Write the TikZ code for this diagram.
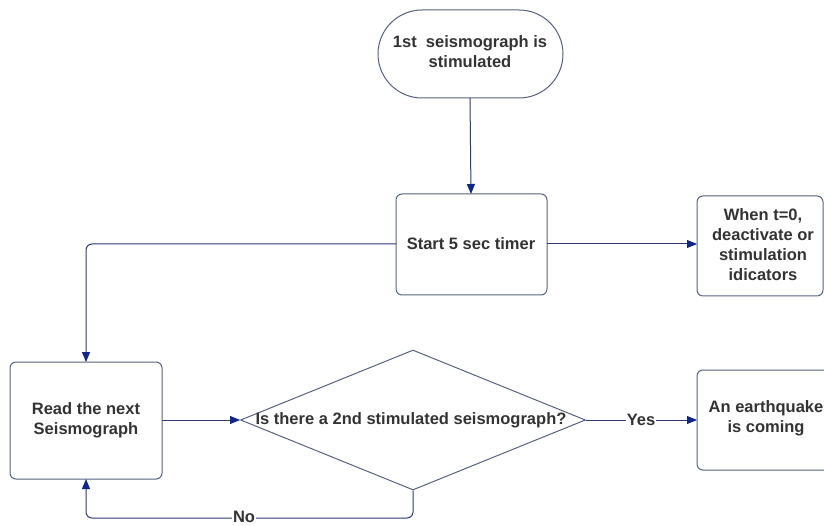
\documentclass[tikz,border=0pt]{standalone}
\usepackage{fontspec}
\setmainfont{Liberation Sans}
\usetikzlibrary{arrows.meta,shapes.geometric}
\definecolor{txt}{RGB}{51,51,51}
\definecolor{boxline}{RGB}{88,98,128}
\definecolor{conn}{RGB}{45,57,120}
\definecolor{tipc}{RGB}{16,38,140}
\tikzset{
  lbl/.style={font=\fontsize{16.5}{20}\selectfont\bfseries, text=txt, align=center},
  box/.style={draw=boxline, line width=1pt, rounded corners=6pt, fill=white},
  conn/.style={draw=conn, line width=1pt, rounded corners=6pt,
     -{Triangle[length=10pt,width=8pt,fill=tipc,color=tipc]}},
}
\begin{document}
\begin{tikzpicture}[x=1pt,y=-1pt]
\useasboundingbox (0,0) rectangle (824,526);
\clip (0,0) rectangle (824,526);
% shapes
\path[box, rounded corners=44pt] (378,10) rectangle (563,98);
\node[lbl] (start) at (470,52) {1st\ \ seismograph is\\stimulated};
\coordinate (startT) at (470,98);
\path[box] (396,194) rectangle (547,295);
\node[lbl] (timer) at (471,244) {Start 5 sec timer};
\coordinate (timerT) at (471,194);
\coordinate (timerL) at (396,244);
\coordinate (timerR) at (547,244);
\path[box] (697,196) rectangle (823,296);
\node[lbl] (when) at (763,245) {When t=0,\\deactivate or\\stimulation\\idicators};
\coordinate (whenL) at (697,244);
\path[box] (10,362) rectangle (162,479);
\node[lbl] (read) at (86,420) {Read the next\\Seismograph};
\coordinate (readT) at (86,362);
\coordinate (readB) at (86,479);
\coordinate (readR) at (162,420);
\node[diamond, draw=boxline, line width=1pt, minimum width=345pt, minimum height=140pt, inner sep=0pt] (dia) at (413,420) {};
\node[lbl] (q) at (411,420) {Is there a 2nd stimulated seismograph?};
\path[box] (697,370) rectangle (836,470);
\node[lbl] (quake) at (766,418) {An earthquake\\is coming};
\coordinate (quakeL) at (697,420);
% connectors
\path[conn] (startT) -- (timerT);
\path[conn] (timerR) -- (whenL);
\path[conn] (timerL) -| (readT);
\path[conn] (readR) -- (dia.west);
\path[conn] (dia.east) -- (quakeL);
\node[lbl, fill=white, inner sep=1pt] (yes) at (641,420) {Yes};
\coordinate (noc) at (413,518);
\path[conn] (dia.south) -- (noc) -| (readB);
\node[lbl, fill=white, inner sep=1pt] (no) at (244,517) {No};
\end{tikzpicture}
\end{document}
